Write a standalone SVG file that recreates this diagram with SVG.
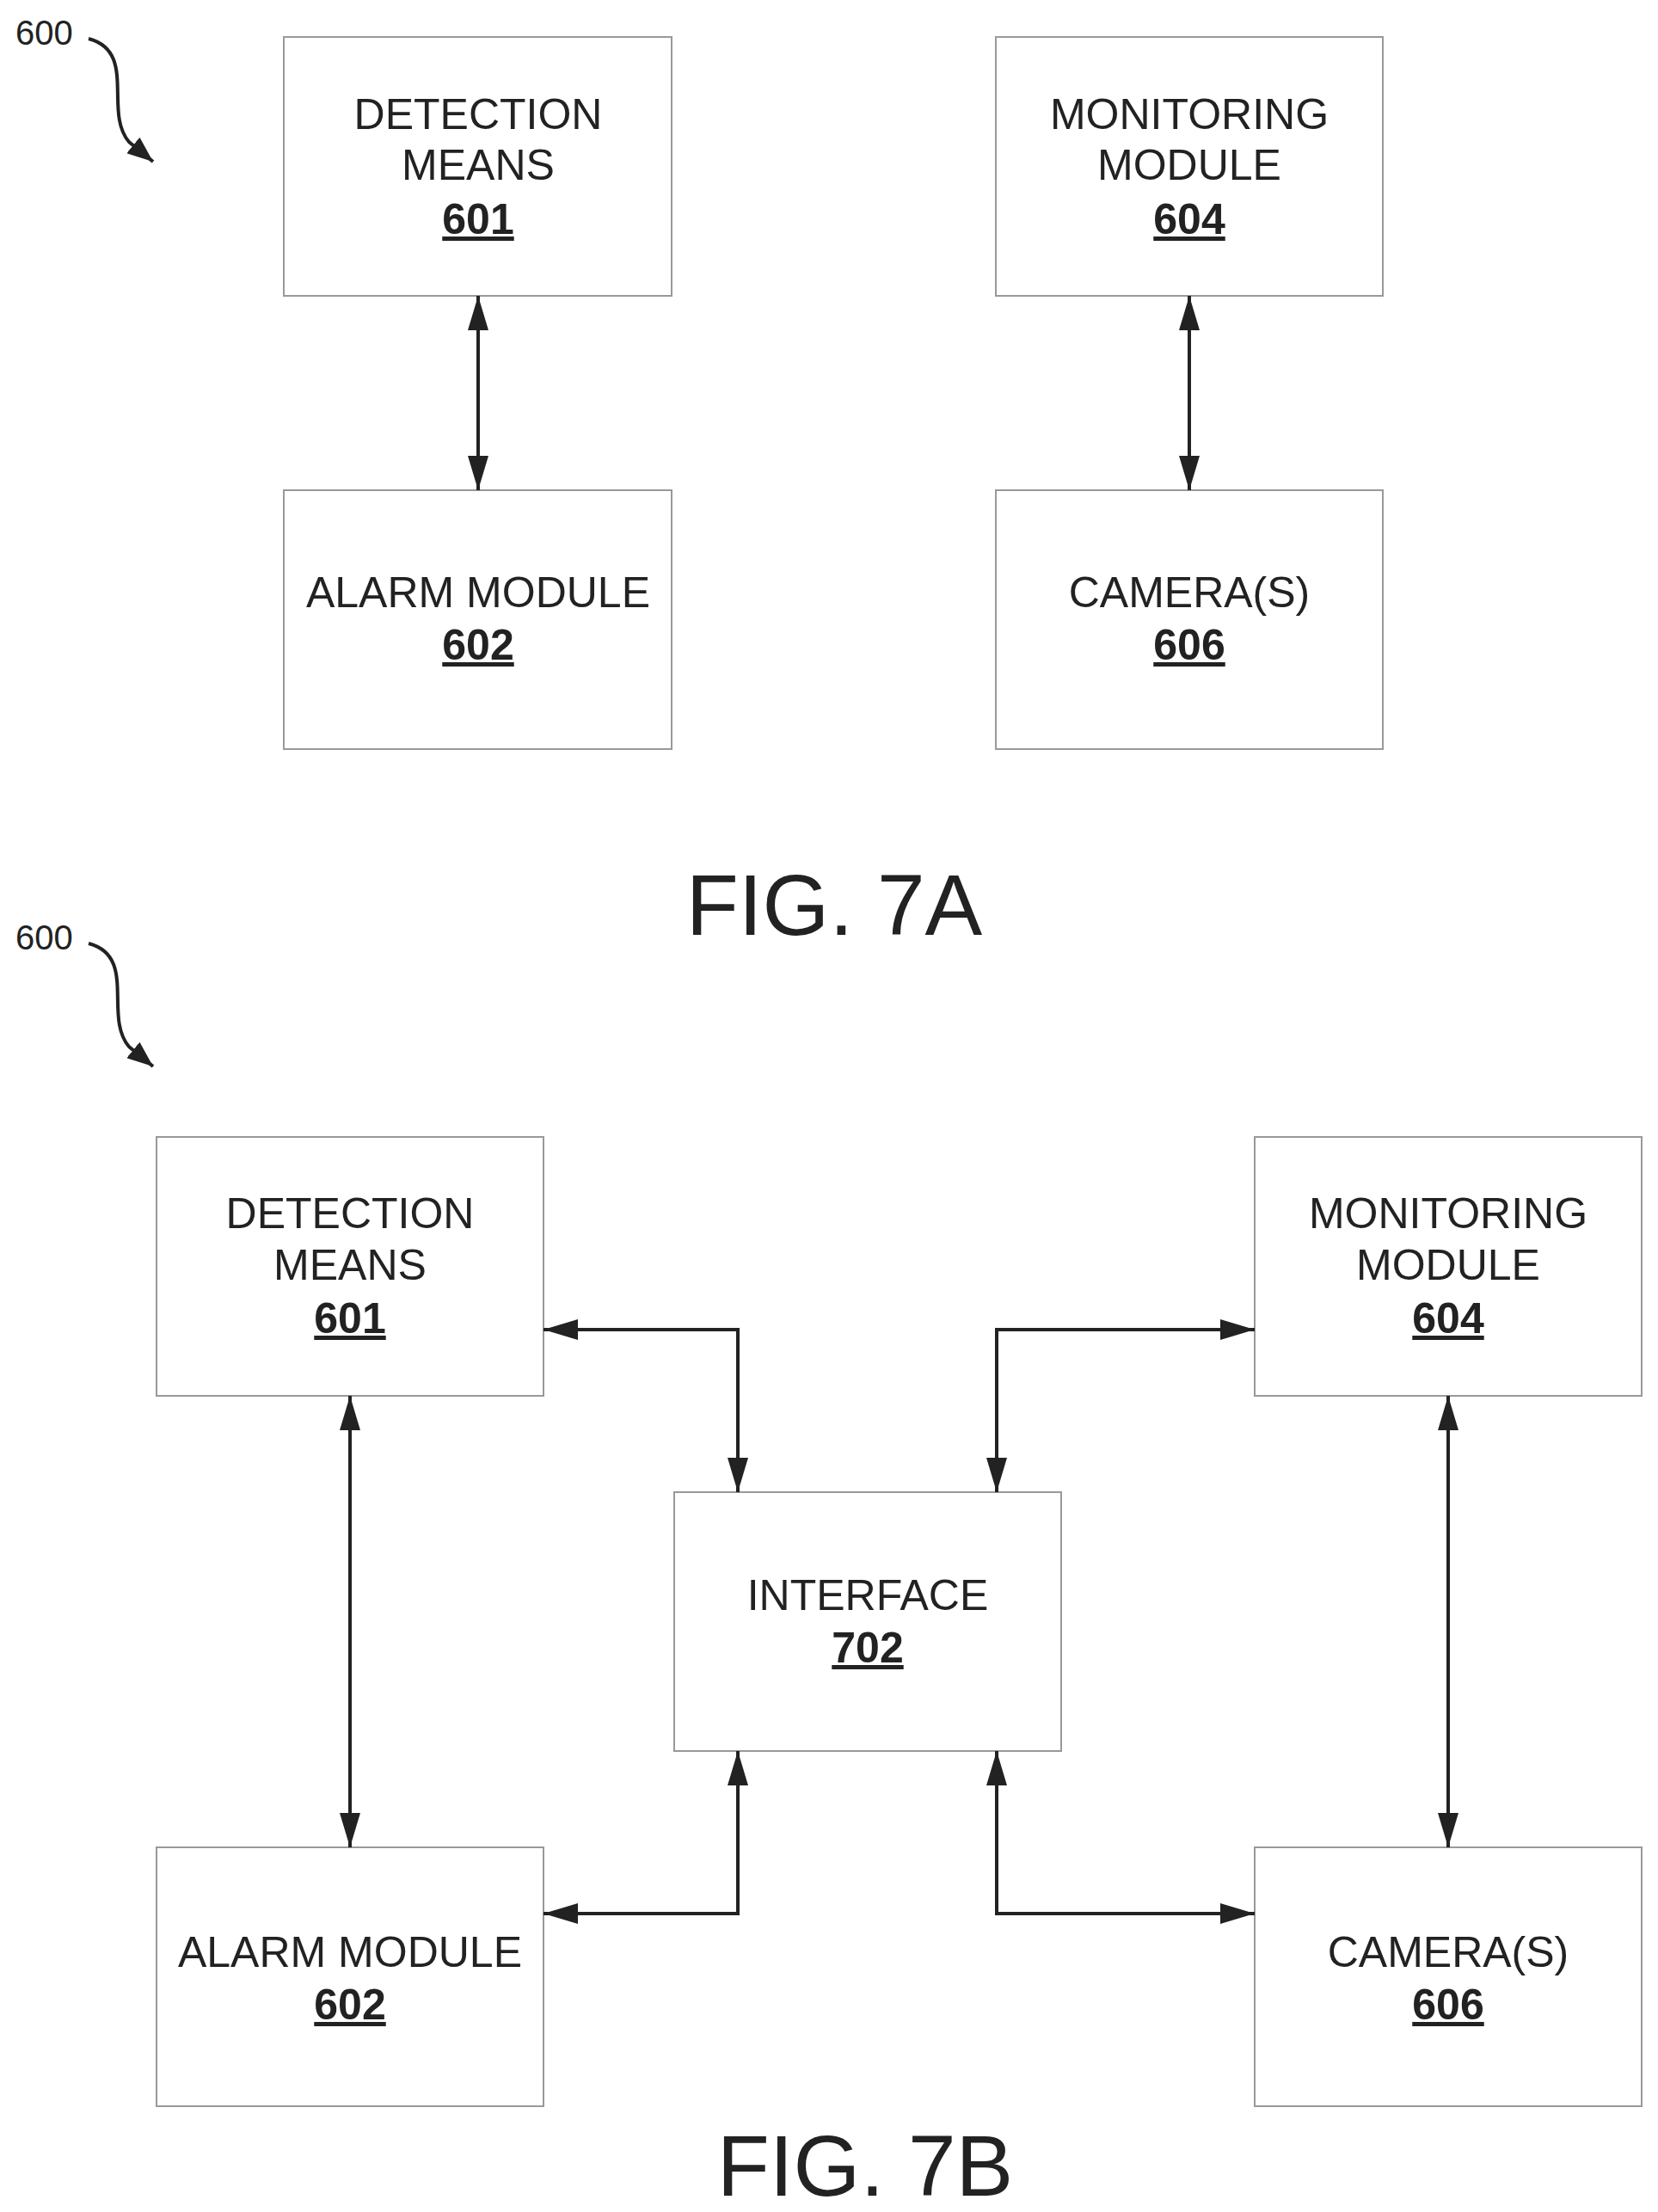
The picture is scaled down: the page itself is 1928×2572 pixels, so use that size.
<svg xmlns="http://www.w3.org/2000/svg" width="1928" height="2572" viewBox="0 0 1928 2572">
<style>
.b{fill:#fff;stroke:#999;stroke-width:2}
.t{font-family:"Liberation Sans",Arial,sans-serif;font-size:50px;text-anchor:middle;fill:#222}
.n{font-weight:bold;text-decoration:underline}
.c{fill:none;stroke:#222;stroke-width:4}
.f{font-family:"Liberation Sans",Arial,sans-serif;font-size:100px;text-anchor:middle;fill:#222}
.l{font-family:"Liberation Sans",Arial,sans-serif;font-size:40px;fill:#222}
</style>
<defs>
<marker id="h" viewBox="0 0 40 24" refX="40" refY="12" markerWidth="40" markerHeight="24" markerUnits="userSpaceOnUse" orient="auto-start-reverse"><path d="M0,0 L40,12 L0,24 z" fill="#222"/></marker>
<marker id="s" viewBox="0 0 30 24" refX="30" refY="12" markerWidth="30" markerHeight="24" markerUnits="userSpaceOnUse" orient="auto"><path d="M0,0 L30,12 L0,24 z" fill="#222"/></marker>
</defs>
<g id="A601"><rect class="b" x="330" y="43" width="451" height="301"/><text class="t" x="556" y="150">DETECTION</text><text class="t" x="556" y="209">MEANS</text><text class="t n" x="556" y="272">601</text></g>
<g id="A604"><rect class="b" x="1158" y="43" width="450" height="301"/><text class="t" x="1383" y="150">MONITORING</text><text class="t" x="1383" y="209">MODULE</text><text class="t n" x="1383" y="272">604</text></g>
<g id="A602"><rect class="b" x="330" y="570" width="451" height="301"/><text class="t" x="556" y="706">ALARM MODULE</text><text class="t n" x="556" y="767">602</text></g>
<g id="A606"><rect class="b" x="1158" y="570" width="450" height="301"/><text class="t" x="1383" y="706">CAMERA(S)</text><text class="t n" x="1383" y="767">606</text></g>
<text class="f" x="970" y="1087">FIG. 7A</text>
<text class="l" x="18" y="52">600</text>
<text class="l" x="18" y="1104">600</text>
<g id="B601"><rect class="b" x="182" y="1322" width="450" height="301"/><text class="t" x="407" y="1428">DETECTION</text><text class="t" x="407" y="1488">MEANS</text><text class="t n" x="407" y="1550">601</text></g>
<g id="B604"><rect class="b" x="1459" y="1322" width="450" height="301"/><text class="t" x="1684" y="1428">MONITORING</text><text class="t" x="1684" y="1488">MODULE</text><text class="t n" x="1684" y="1550">604</text></g>
<g id="B702"><rect class="b" x="784" y="1735" width="450" height="301"/><text class="t" x="1009" y="1872">INTERFACE</text><text class="t n" x="1009" y="1933">702</text></g>
<g id="B602"><rect class="b" x="182" y="2148" width="450" height="301"/><text class="t" x="407" y="2287">ALARM MODULE</text><text class="t n" x="407" y="2348">602</text></g>
<g id="B606"><rect class="b" x="1459" y="2148" width="450" height="301"/><text class="t" x="1684" y="2287">CAMERA(S)</text><text class="t n" x="1684" y="2348">606</text></g>
<text class="f" x="1006" y="2553">FIG. 7B</text>
<g id="connectors">
<path class="c" d="M556,344 V570" marker-start="url(#h)" marker-end="url(#h)"/>
<path class="c" d="M1383,344 V570" marker-start="url(#h)" marker-end="url(#h)"/>
<path class="c" d="M407,1623 V2148" marker-start="url(#h)" marker-end="url(#h)"/>
<path class="c" d="M1684,1623 V2148" marker-start="url(#h)" marker-end="url(#h)"/>
<path class="c" d="M632,1546 H858 V1735" marker-start="url(#h)" marker-end="url(#h)"/>
<path class="c" d="M1459,1546 H1159 V1735" marker-start="url(#h)" marker-end="url(#h)"/>
<path class="c" d="M632,2225 H858 V2036" marker-start="url(#h)" marker-end="url(#h)"/>
<path class="c" d="M1459,2225 H1159 V2036" marker-start="url(#h)" marker-end="url(#h)"/>
<path class="c" d="M103,45 C160,60 120,130 150,165 L178,188" stroke-width="3" marker-end="url(#s)"/>
<path class="c" d="M103,1097 C160,1112 120,1182 150,1217 L178,1240" stroke-width="3" marker-end="url(#s)"/>
</g>
</svg>
